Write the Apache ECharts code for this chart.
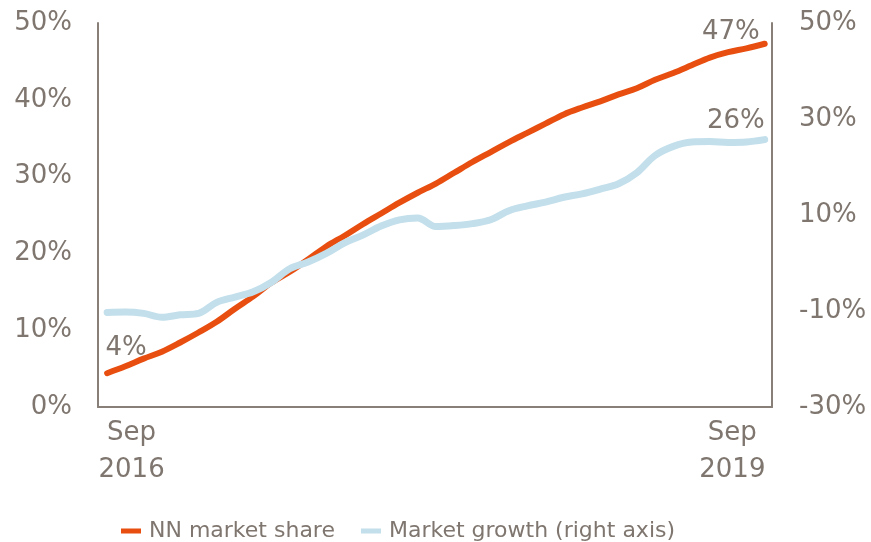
<!DOCTYPE html>
<html>
<head>
<meta charset="utf-8">
<script src="https://cdn.jsdelivr.net/npm/echarts@6/dist/echarts.min.js"></script>
<style>
  html, body { margin: 0; padding: 0; background: #ffffff; }
  #chart { width: 871px; height: 542px; }
</style>
</head>
<body>
<div id="chart"></div>
<script>
// Monthly observations, Sep 2016 .. Sep 2019
const months = [
  'Sep 2016','Oct 2016','Nov 2016','Dec 2016','Jan 2017','Feb 2017','Mar 2017','Apr 2017',
  'May 2017','Jun 2017','Jul 2017','Aug 2017','Sep 2017','Oct 2017','Nov 2017','Dec 2017',
  'Jan 2018','Feb 2018','Mar 2018','Apr 2018','May 2018','Jun 2018','Jul 2018','Aug 2018',
  'Sep 2018','Oct 2018','Nov 2018','Dec 2018','Jan 2019','Feb 2019','Mar 2019','Apr 2019',
  'May 2019','Jun 2019','Jul 2019','Aug 2019','Sep 2019'
];

// NN market share, % (left axis)
const nnShare = [
  4.4, 5.3, 6.3, 7.2, 8.4, 9.7, 11.1, 12.8, 14.4, 16.2, 17.6, 19.2, 20.9,
  22.3, 23.8, 25.2, 26.6, 27.9, 29.1, 30.5, 31.9, 33.2, 34.5, 35.7, 36.9,
  38.1, 39.0, 39.8, 40.7, 41.5, 42.6, 43.5, 44.5, 45.5, 46.2, 46.7, 47.3
];

// Market growth, % (right axis)
const marketGrowth = [
  -10.3, -10.2, -10.5, -11.3, -10.8, -10.5, -8.2, -7.1, -6.0, -4.0, -1.2, 0.2, 2.0,
  4.2, 5.8, 7.7, 9.0, 9.4, 7.6, 7.8, 8.2, 9.0, 10.9, 11.9, 12.7,
  13.7, 14.4, 15.4, 16.5, 18.8, 22.4, 24.3, 25.2, 25.3, 25.1, 25.2, 25.7
];

const leftTicks = [0, 10, 20, 30, 40, 50];
const rightTicks = [-30, -10, 10, 30, 50];
const xTickLabels = ['Sep\n2016', 'Sep\n2019'];
const seriesNames = ['NN market share', 'Market growth (right axis)'];

const TEXT = '#7f766f';
const AXIS = '#877f78';
const FONT = '"DejaVu Sans", Verdana, sans-serif';
const ORANGE = '#e84e0f';
const BLUE = '#c2dfeb';

const pct = v => Math.round(v) + '%';

// value labels drawn next to selected points
function withLabels(values, labelled) {
  return values.map((v, i) => {
    const cfg = labelled[i];
    if (!cfg) return [i, v];
    return {
      value: [i, v],
      label: Object.assign({
        show: true,
        formatter: p => pct(p.value[1]),
        color: TEXT,
        fontFamily: FONT,
        fontSize: 26,
        verticalAlign: 'middle'
      }, cfg)
    };
  });
}

const last = months.length - 1;

const chart = echarts.init(document.getElementById('chart'), null, { renderer: 'canvas' });

chart.setOption({
  animation: false,
  backgroundColor: '#ffffff',
  textStyle: { fontFamily: FONT },
  grid: { left: 98, right: 99, top: 23, bottom: 135 },
  legend: {
    data: seriesNames,
    left: 116,
    top: 515,
    icon: 'rect',
    itemWidth: 20,
    itemHeight: 5,
    itemGap: 26,
    textStyle: { color: TEXT, fontSize: 22, fontFamily: FONT, padding: [0, 0, 0, 3] }
  },
  xAxis: {
    type: 'value',
    min: -0.5,
    max: last + 0.4,
    splitLine: { show: false },
    axisTick: { show: false },
    axisLine: { show: true, onZero: false, lineStyle: { color: AXIS, width: 2 } },
    axisLabel: {
      customValues: [1.34, last - 1.77],
      formatter: v => (v < last / 2 ? xTickLabels[0] : xTickLabels[1]),
      color: TEXT,
      fontFamily: FONT,
      fontSize: 26,
      lineHeight: 37,
      margin: 8
    }
  },
  yAxis: [
    {
      type: 'value',
      min: leftTicks[0],
      max: leftTicks[leftTicks.length - 1],
      splitLine: { show: false },
      axisTick: { show: false },
      axisLine: { show: true, onZero: false, lineStyle: { color: AXIS, width: 2 } },
      axisLabel: {
        customValues: leftTicks,
        formatter: v => v + '%',
        color: TEXT,
        fontFamily: FONT,
        fontSize: 26,
        margin: 26
      }
    },
    {
      type: 'value',
      position: 'right',
      min: rightTicks[0],
      max: rightTicks[rightTicks.length - 1],
      splitLine: { show: false },
      axisTick: { show: false },
      axisLine: { show: true, onZero: false, lineStyle: { color: AXIS, width: 2 } },
      axisLabel: {
        customValues: rightTicks,
        formatter: v => v + '%',
        color: TEXT,
        fontFamily: FONT,
        fontSize: 26,
        margin: 27
      }
    }
  ],
  series: [
    {
      name: seriesNames[0],
      type: 'line',
      yAxisIndex: 0,
      smooth: 0.35,
      symbol: 'circle',
      symbolSize: 0,
      showSymbol: true,
      color: ORANGE,
      lineStyle: { color: ORANGE, width: 6, cap: 'round' },
      itemStyle: { color: ORANGE },
      label: { show: false },
      emphasis: { disabled: true },
      data: withLabels(nnShare, {
        0: { position: [19, -25], align: 'center' },
        [last]: { position: [-5, -11], align: 'right' }
      })
    },
    {
      name: seriesNames[1],
      type: 'line',
      yAxisIndex: 1,
      smooth: 0.35,
      symbol: 'circle',
      symbolSize: 0,
      showSymbol: true,
      color: BLUE,
      lineStyle: { color: BLUE, width: 7, cap: 'round' },
      itemStyle: { color: BLUE },
      label: { show: false },
      emphasis: { disabled: true },
      data: withLabels(marketGrowth, {
        [last]: { position: [0, -18], align: 'right' }
      })
    }
  ]
});
</script>
</body>
</html>
